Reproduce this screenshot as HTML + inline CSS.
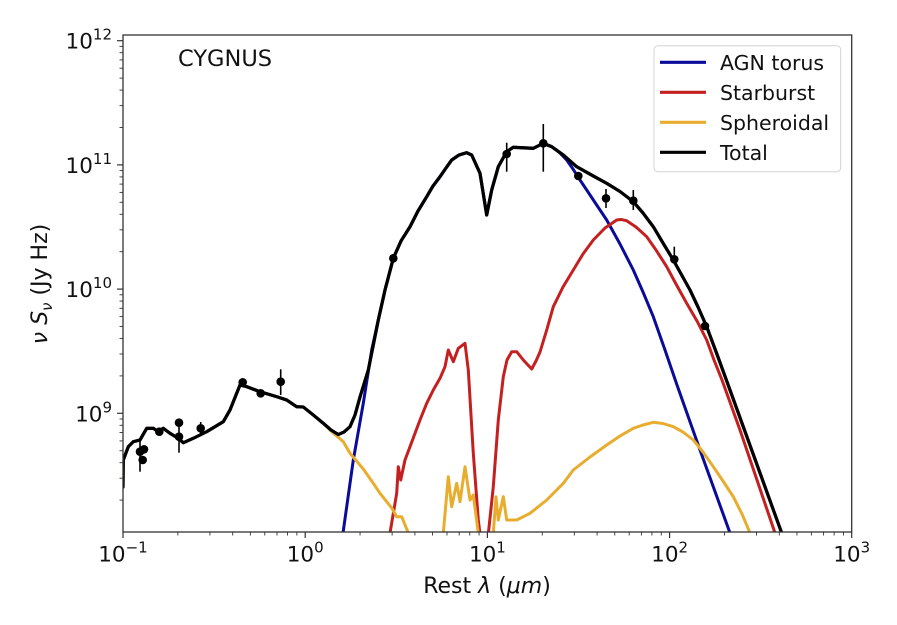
<!DOCTYPE html>
<html>
<head>
<meta charset="utf-8">
<style>
html,body{margin:0;padding:0;background:#fff;}
svg{display:block;}
text{font-family:"DejaVu Sans","Liberation Sans",sans-serif;fill:#111;}
</style>
</head>
<body>
<svg width="897" height="625" viewBox="0 0 897 625" xmlns="http://www.w3.org/2000/svg">
<defs>
<clipPath id="ax"><rect x="123" y="35" width="728.7" height="497"/></clipPath>
</defs>
<rect width="897" height="625" fill="#fff"/>

<g clip-path="url(#ax)" fill="none" stroke-linejoin="round" stroke-linecap="round">
<!-- AGN torus -->
<polyline stroke="#0b0b9a" stroke-width="3" points="343,533 353.3,460 363.3,403.3 371.7,350 378.3,320 385,290 393.3,258.3 401,241 410,226.7 418,211 426.7,196.7 433,186 440,176.7 446,168 451.7,160 459,155 466.7,152.7 471.7,155 480,173.3 486.7,215 491.7,190 498.3,166.7 506.7,151.7 513.3,147.3 533.3,148.3 543.3,143.3 551.7,146.7 559,152 566.7,160 573,169 580,180 586.7,190 596,204 606.7,220 620,244 633.3,270 643,292 653.3,316.7 665,350 677,385 700,450 730,533"/>
<!-- Starburst -->
<polyline stroke="#c42020" stroke-width="3" points="390,533 396.7,493.3 398.3,466.7 400.7,480 405,460 410,446.7 420,420 426.7,403.3 433.3,390 440,378.3 445,366.7 448.3,350 453.3,361.7 458.3,348.3 465,343.3 468.3,370 473.3,453.3 478.3,520 480,534"/>
<polyline stroke="#c42020" stroke-width="3" points="488.3,534 493.3,486.7 498.3,420 503.3,376.7 507,360 511.7,351.7 516.7,351.7 523.3,360 531.7,369 536,361 540,352 546.7,330 553.3,306.7 563,287 573.3,270 583,254 593.3,240 605,228 616.7,220 621,219.5 626.7,220.7 636,227 646.7,236.7 656,250 666.7,266.7 676,284 686.7,303.3 697,321 706.7,340 714,360 722,380 740,430 775,533"/>
<!-- Spheroidal -->
<polyline stroke="#e8ad2e" stroke-width="3" points="123,487 123.3,460 128.3,446.7 133.3,441.7 140,440 146.7,428.3 153.3,428.3 158.3,431.7 163.3,428.3 170,433.3 178.3,438.3 183.3,442.7 193.3,438.3 206.7,431.7 223.3,421.7 230,410 240,385 246.7,386.7 260,391.7 276.7,396.7 286.7,400 296.7,406.7 303.3,407 313.3,415 323.3,423.3 330,430 343.3,441.7 350,453.3 363.3,469 373.3,483.3 380,493.3 391.7,508 396.7,516.7 401.7,516.7 408.3,533"/>
<polyline stroke="#e8ad2e" stroke-width="3" points="443.3,533 448.3,476.7 451.7,506.7 456.7,483.3 460,501.7 465,466.7 470,500 473.3,495 478.3,533"/>
<polyline stroke="#e8ad2e" stroke-width="3" points="493.3,533 496,496.7 498.3,520 503.3,496.7 506.7,520 516.7,520 530,513.3 546.7,500 563.3,483.3 573.3,470 590,457 606.7,445 620,436 633.3,428.3 643,425 653.3,422.3 663,423.5 673.3,426.7 683,432 693.3,440 703,452 713.3,466.7 723,481 733.3,496.7 742,514 750,533"/>
<!-- Total -->
<polyline stroke="#000" stroke-width="3.3" points="123,487 123.3,460 128.3,446.7 133.3,441.7 140,440 146.7,428.3 153.3,428.3 158.3,431.7 163.3,428.3 170,433.3 178.3,438.3 183.3,442.7 193.3,438.3 206.7,431.7 223.3,421.7 230,410 240,385 246.7,386.7 260,391.7 276.7,396.7 286.7,400 296.7,406.7 303.3,407 313.3,415 323.3,423.3 331,430 338.3,434.5 344,432 350,426.7 355,415 360,397 368.3,370 373.3,345 378.3,320 385,290 393.3,258.3 401,241 410,226.7 418,211 426.7,196.7 433,186 440,176.7 446,168 451.7,160 459,155 466.7,152.7 471.7,155 480,173.3 486.7,215 491.7,190 498.3,166.7 506.7,151.7 513.3,147.3 533.3,148.3 543.3,143.3 551.7,146.7 563.3,155 576.7,166.7 593.3,176 606.7,183.3 620,191.5 633.3,201.7 643,213 653.3,226.7 663,243 673.3,260 690,290 698,307 706.7,326.7 718,357 730,390 781.7,533"/>
</g>

<!-- Data points & error bars -->
<g stroke="#000" stroke-width="1.6">
<line x1="140" y1="440" x2="140" y2="471.7"/>
<line x1="179" y1="422.7" x2="179" y2="452.7"/>
<line x1="200.7" y1="422" x2="200.7" y2="434"/>
<line x1="280.7" y1="369.3" x2="280.7" y2="395"/>
<line x1="506.7" y1="142.7" x2="506.7" y2="171.7"/>
<line x1="543.3" y1="124" x2="543.3" y2="171.7"/>
<line x1="606" y1="189" x2="606" y2="208"/>
<line x1="633.3" y1="190" x2="633.3" y2="210"/>
<line x1="674.3" y1="246.7" x2="674.3" y2="263.3"/>
</g>
<g fill="#000">
<circle cx="140" cy="451.7" r="4.3"/>
<circle cx="144" cy="449.3" r="4.3"/>
<circle cx="142.7" cy="460" r="4.3"/>
<circle cx="159.3" cy="431.7" r="4.3"/>
<circle cx="179" cy="422.7" r="4.3"/>
<circle cx="179" cy="436.7" r="4.3"/>
<circle cx="200.7" cy="428.3" r="4.3"/>
<circle cx="242.7" cy="382.3" r="4.3"/>
<circle cx="260.7" cy="393.3" r="4.3"/>
<circle cx="280.7" cy="381.7" r="4.3"/>
<circle cx="393.3" cy="258.3" r="4.3"/>
<circle cx="506.7" cy="154" r="4.3"/>
<circle cx="543.3" cy="143.3" r="4.3"/>
<circle cx="578.3" cy="176" r="4.3"/>
<circle cx="606" cy="198.3" r="4.3"/>
<circle cx="633.3" cy="200.7" r="4.3"/>
<circle cx="674.3" cy="259.3" r="4.3"/>
<circle cx="705" cy="326" r="4.3"/>
</g>

<!-- Axes frame -->
<rect x="123" y="35" width="728.7" height="497" fill="none" stroke="#333" stroke-width="1.3"/>

<!-- X ticks -->
<g stroke="#333" stroke-width="1.2">
<line x1="123" y1="532" x2="123" y2="538"/>
<line x1="305.2" y1="532" x2="305.2" y2="538"/>
<line x1="487.4" y1="532" x2="487.4" y2="538"/>
<line x1="669.6" y1="532" x2="669.6" y2="538"/>
<line x1="851.7" y1="532" x2="851.7" y2="538"/>
</g>
<g stroke="#333" stroke-width="0.9">
<line x1="177.85" y1="532" x2="177.85" y2="535.5"/><line x1="209.93" y1="532" x2="209.93" y2="535.5"/><line x1="232.7" y1="532" x2="232.7" y2="535.5"/><line x1="250.35" y1="532" x2="250.35" y2="535.5"/><line x1="264.78" y1="532" x2="264.78" y2="535.5"/><line x1="276.98" y1="532" x2="276.98" y2="535.5"/><line x1="287.54" y1="532" x2="287.54" y2="535.5"/><line x1="296.86" y1="532" x2="296.86" y2="535.5"/>
<line x1="360.05" y1="532" x2="360.05" y2="535.5"/><line x1="392.13" y1="532" x2="392.13" y2="535.5"/><line x1="414.9" y1="532" x2="414.9" y2="535.5"/><line x1="432.55" y1="532" x2="432.55" y2="535.5"/><line x1="446.98" y1="532" x2="446.98" y2="535.5"/><line x1="459.18" y1="532" x2="459.18" y2="535.5"/><line x1="469.74" y1="532" x2="469.74" y2="535.5"/><line x1="479.06" y1="532" x2="479.06" y2="535.5"/>
<line x1="542.25" y1="532" x2="542.25" y2="535.5"/><line x1="574.33" y1="532" x2="574.33" y2="535.5"/><line x1="597.1" y1="532" x2="597.1" y2="535.5"/><line x1="614.75" y1="532" x2="614.75" y2="535.5"/><line x1="629.18" y1="532" x2="629.18" y2="535.5"/><line x1="641.38" y1="532" x2="641.38" y2="535.5"/><line x1="651.94" y1="532" x2="651.94" y2="535.5"/><line x1="661.26" y1="532" x2="661.26" y2="535.5"/>
<line x1="724.45" y1="532" x2="724.45" y2="535.5"/><line x1="756.53" y1="532" x2="756.53" y2="535.5"/><line x1="779.3" y1="532" x2="779.3" y2="535.5"/><line x1="796.95" y1="532" x2="796.95" y2="535.5"/><line x1="811.38" y1="532" x2="811.38" y2="535.5"/><line x1="823.58" y1="532" x2="823.58" y2="535.5"/><line x1="834.14" y1="532" x2="834.14" y2="535.5"/><line x1="843.46" y1="532" x2="843.46" y2="535.5"/>
</g>

<!-- Y ticks -->
<g stroke="#333" stroke-width="1.2">
<line x1="117" y1="413.3" x2="123" y2="413.3"/>
<line x1="117" y1="289.1" x2="123" y2="289.1"/>
<line x1="117" y1="164.9" x2="123" y2="164.9"/>
<line x1="117" y1="40.7" x2="123" y2="40.7"/>
</g>
<g stroke="#333" stroke-width="0.9">
<line x1="119.5" y1="500.1" x2="123" y2="500.1"/><line x1="119.5" y1="478.2" x2="123" y2="478.2"/><line x1="119.5" y1="462.7" x2="123" y2="462.7"/><line x1="119.5" y1="450.7" x2="123" y2="450.7"/><line x1="119.5" y1="440.9" x2="123" y2="440.9"/><line x1="119.5" y1="432.5" x2="123" y2="432.5"/><line x1="119.5" y1="425.3" x2="123" y2="425.3"/><line x1="119.5" y1="419" x2="123" y2="419"/>
<line x1="119.5" y1="375.9" x2="123" y2="375.9"/><line x1="119.5" y1="354" x2="123" y2="354"/><line x1="119.5" y1="338.5" x2="123" y2="338.5"/><line x1="119.5" y1="326.5" x2="123" y2="326.5"/><line x1="119.5" y1="316.6" x2="123" y2="316.6"/><line x1="119.5" y1="308.3" x2="123" y2="308.3"/><line x1="119.5" y1="301.1" x2="123" y2="301.1"/><line x1="119.5" y1="294.8" x2="123" y2="294.8"/>
<line x1="119.5" y1="251.7" x2="123" y2="251.7"/><line x1="119.5" y1="229.8" x2="123" y2="229.8"/><line x1="119.5" y1="214.3" x2="123" y2="214.3"/><line x1="119.5" y1="202.3" x2="123" y2="202.3"/><line x1="119.5" y1="192.4" x2="123" y2="192.4"/><line x1="119.5" y1="184.1" x2="123" y2="184.1"/><line x1="119.5" y1="176.9" x2="123" y2="176.9"/><line x1="119.5" y1="170.6" x2="123" y2="170.6"/>
<line x1="119.5" y1="127.5" x2="123" y2="127.5"/><line x1="119.5" y1="105.6" x2="123" y2="105.6"/><line x1="119.5" y1="90.1" x2="123" y2="90.1"/><line x1="119.5" y1="78.1" x2="123" y2="78.1"/><line x1="119.5" y1="68.2" x2="123" y2="68.2"/><line x1="119.5" y1="59.9" x2="123" y2="59.9"/><line x1="119.5" y1="52.7" x2="123" y2="52.7"/><line x1="119.5" y1="46.4" x2="123" y2="46.4"/>
</g>

<!-- X tick labels -->
<g font-size="21.5" text-anchor="middle">
<text x="123" y="561.7">10<tspan dy="-9" font-size="15">−1</tspan></text>
<text x="305.2" y="561.7">10<tspan dy="-9" font-size="15">0</tspan></text>
<text x="487.4" y="561.7">10<tspan dy="-9" font-size="15">1</tspan></text>
<text x="669.6" y="561.7">10<tspan dy="-9" font-size="15">2</tspan></text>
<text x="851.7" y="561.7">10<tspan dy="-9" font-size="15">3</tspan></text>
</g>

<!-- Y tick labels -->
<g font-size="21.5" text-anchor="end">
<text x="112" y="421.3">10<tspan dy="-9" font-size="15">9</tspan></text>
<text x="112" y="297.1">10<tspan dy="-9" font-size="15">10</tspan></text>
<text x="112" y="172.9">10<tspan dy="-9" font-size="15">11</tspan></text>
<text x="112" y="48.7">10<tspan dy="-9" font-size="15">12</tspan></text>
</g>

<!-- Axis labels -->
<text x="487" y="593" font-size="22" text-anchor="middle">Rest <tspan font-style="italic">λ</tspan> (<tspan font-style="italic">μm</tspan>)</text>
<text transform="translate(47,284) rotate(-90)" font-size="22" text-anchor="middle"><tspan font-style="italic">ν</tspan> <tspan font-style="italic">S</tspan><tspan font-style="italic" font-size="15" dy="5">ν</tspan><tspan dy="-5"> (Jy Hz)</tspan></text>

<!-- Title -->
<text x="178" y="66" font-size="22.5">CYGNUS</text>

<!-- Legend -->
<rect x="654" y="45.7" width="186.7" height="126" rx="4" ry="4" fill="#fff" fill-opacity="0.85" stroke="#d4d4d4" stroke-width="1"/>
<g stroke-width="3.2">
<line x1="660" y1="62.3" x2="706" y2="62.3" stroke="#0b0b9a"/>
<line x1="660" y1="92.3" x2="706" y2="92.3" stroke="#c42020"/>
<line x1="660" y1="122.3" x2="706" y2="122.3" stroke="#e8ad2e"/>
<line x1="660" y1="152.3" x2="706" y2="152.3" stroke="#000"/>
</g>
<g font-size="20.5">
<text x="720" y="70">AGN torus</text>
<text x="720" y="100">Starburst</text>
<text x="720" y="130">Spheroidal</text>
<text x="720" y="160">Total</text>
</g>
</svg>
</body>
</html>
